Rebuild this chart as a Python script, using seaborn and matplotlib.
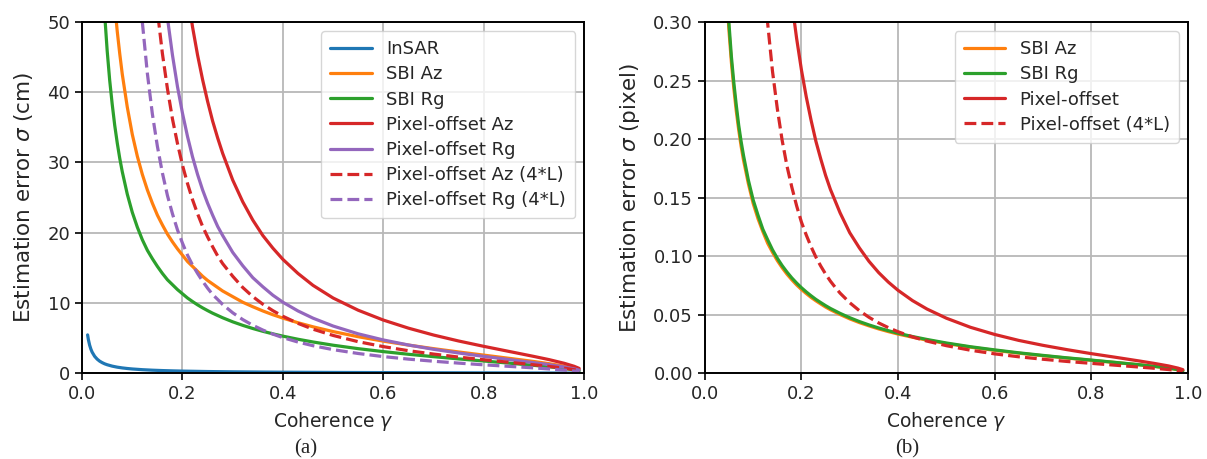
import numpy as np
import pandas as pd
import seaborn as sns
import matplotlib.pyplot as plt

# ---------------- panel (a): estimation error in cm ----------------
g_insar = [0.011, 0.0125, 0.015, 0.0175, 0.02, 0.025, 0.03, 0.035, 0.04, 0.045, 0.05, 0.06, 0.07, 0.08, 0.09, 0.10,
           0.12, 0.14, 0.16, 0.18, 0.20, 0.25, 0.30, 0.36, 0.40, 0.50, 0.60, 0.70, 0.80, 0.90, 0.96, 0.99]
v_insar = [5.45, 4.80, 4.00, 3.43, 3.00, 2.40, 2.00, 1.71, 1.50, 1.33, 1.20, 1.00, 0.855, 0.748, 0.664, 0.597,
           0.496, 0.424, 0.370, 0.328, 0.294, 0.232, 0.191, 0.156, 0.137, 0.104, 0.080, 0.061, 0.045, 0.029, 0.018, 0.0086]

# coherence samples for the SBI curves
g_sbi = [0.04, 0.045, 0.05, 0.055, 0.06, 0.065, 0.07, 0.075, 0.08,
         0.09, 0.10, 0.11, 0.12, 0.13, 0.14, 0.15, 0.16, 0.17, 0.18, 0.19, 0.20,
         0.21, 0.22, 0.23, 0.24, 0.25, 0.26,
         0.28, 0.30, 0.32, 0.34, 0.36, 0.38, 0.40,
         0.43, 0.46, 0.50, 0.55, 0.60, 0.65, 0.70, 0.75, 0.80, 0.85, 0.90, 0.93, 0.96, 0.98, 0.99]
v_sbi_az = [85.4, 75.9, 68.3, 62.1, 56.9, 52.5, 48.7, 45.5, 42.6,
            37.9, 34.0, 30.9, 28.3, 26.1, 24.2, 22.5, 21.1, 19.8, 18.7, 17.7, 16.8,
            15.9, 15.2, 14.5, 13.8, 13.2, 12.7,
            11.7, 10.9, 10.1, 9.46, 8.86, 8.32, 7.84,
            7.18, 6.60, 5.92, 5.19, 4.56, 4.00, 3.49, 3.02, 2.57, 2.12, 1.66, 1.35, 1.00, 0.69, 0.49]
v_sbi_rg = [57.5, 51.1, 45.9, 41.7, 38.3, 35.3, 32.8, 30.6, 28.7,
            25.5, 22.9, 20.8, 19.0, 17.5, 16.3, 15.2, 14.2, 13.3, 12.6, 11.9, 11.3,
            10.7, 10.2, 9.73, 9.30, 8.91, 8.54,
            7.89, 7.31, 6.81, 6.36, 5.96, 5.60, 5.27,
            4.83, 4.44, 3.98, 3.49, 3.07, 2.69, 2.35, 2.03, 1.73, 1.43, 1.11, 0.91, 0.67, 0.47, 0.33]

# coherence samples for the pixel-offset curves
g_po = [0.12, 0.13, 0.14, 0.15, 0.16, 0.17, 0.18, 0.19, 0.20,
        0.21, 0.22, 0.23, 0.24, 0.25, 0.26, 0.27, 0.28,
        0.30, 0.32, 0.34, 0.36, 0.38, 0.40,
        0.43, 0.46, 0.50, 0.55, 0.60, 0.65, 0.70, 0.75, 0.80, 0.85, 0.90, 0.93, 0.96, 0.98, 0.99]
v_po_az = [160, 137, 118, 103, 91.1, 81.0, 72.5, 65.3, 59.2,
           53.9, 49.3, 45.3, 41.8, 38.7, 35.9, 33.5, 31.3,
           27.5, 24.4, 21.8, 19.6, 17.8, 16.2,
           14.2, 12.5, 10.7, 8.96, 7.56, 6.41, 5.43, 4.58, 3.82, 3.10, 2.38, 1.93, 1.41, 0.98, 0.68]
v_po_rg = [99.9, 85.4, 73.9, 64.5, 56.9, 50.6, 45.3, 40.8, 37.0,
           33.7, 30.8, 28.3, 26.1, 24.2, 22.5, 20.9, 19.6,
           17.2, 15.3, 13.6, 12.3, 11.1, 10.1,
           8.86, 7.83, 6.71, 5.60, 4.73, 4.01, 3.40, 2.87, 2.39, 1.94, 1.49, 1.21, 0.88, 0.61, 0.43]
v_po_az4 = [79.9, 68.3, 59.1, 51.6, 45.5, 40.5, 36.2, 32.7, 29.6,
            27.0, 24.7, 22.7, 20.9, 19.4, 18.0, 16.7, 15.6,
            13.8, 12.2, 10.9, 9.82, 8.90, 8.10,
            7.09, 6.26, 5.37, 4.48, 3.78, 3.20, 2.72, 2.29, 1.91, 1.55, 1.19, 0.96, 0.71, 0.49, 0.34]
v_po_rg4 = [50.0, 42.7, 36.9, 32.3, 28.5, 25.3, 22.7, 20.4, 18.5,
            16.8, 15.4, 14.2, 13.1, 12.1, 11.2, 10.5, 9.78,
            8.60, 7.63, 6.82, 6.14, 5.56, 5.06,
            4.43, 3.91, 3.35, 2.80, 2.36, 2.00, 1.70, 1.43, 1.19, 0.97, 0.75, 0.60, 0.44, 0.31, 0.21]

# ---------------- panel (b): estimation error in pixel ----------------
v_b_sbi_az = [0.365, 0.324, 0.292, 0.265, 0.243, 0.224, 0.208, 0.194, 0.182,
              0.162, 0.145, 0.132, 0.121, 0.111, 0.1033, 0.0962, 0.0901, 0.0846, 0.0798, 0.0754, 0.0715,
              0.0680, 0.0647, 0.0618, 0.0591, 0.0565, 0.0542,
              0.0501, 0.0464, 0.0432, 0.0404, 0.0378, 0.0355, 0.0334,
              0.0307, 0.0282, 0.0253, 0.0222, 0.0195, 0.0171, 0.0149, 0.0129, 0.0110, 0.0091, 0.0071, 0.0058, 0.0043, 0.0030, 0.0021]
v_b_sbi_rg = [0.372, 0.331, 0.298, 0.270, 0.248, 0.229, 0.212, 0.198, 0.186,
              0.165, 0.148, 0.135, 0.123, 0.114, 0.1054, 0.0982, 0.0919, 0.0864, 0.0814, 0.0770, 0.0730,
              0.0694, 0.0661, 0.0630, 0.0603, 0.0577, 0.0553,
              0.0511, 0.0474, 0.0441, 0.0412, 0.0386, 0.0363, 0.0341,
              0.0313, 0.0288, 0.0258, 0.0226, 0.0199, 0.0174, 0.0152, 0.0131, 0.0112, 0.0092, 0.0072, 0.0059, 0.0044, 0.0030, 0.0021]
v_b_po = [0.700, 0.598, 0.517, 0.452, 0.398, 0.354, 0.317, 0.286, 0.259,
          0.236, 0.216, 0.198, 0.183, 0.169, 0.157, 0.147, 0.137,
          0.120, 0.107, 0.0955, 0.0859, 0.0778, 0.0708,
          0.0620, 0.0548, 0.0470, 0.0392, 0.0331, 0.0280, 0.0238, 0.0201, 0.0167, 0.0136, 0.0104, 0.0084, 0.0062, 0.0043, 0.0030]
v_b_po4 = [0.350, 0.299, 0.258, 0.226, 0.199, 0.177, 0.159, 0.143, 0.129,
           0.118, 0.108, 0.0991, 0.0915, 0.0847, 0.0786, 0.0733, 0.0684,
           0.0602, 0.0534, 0.0477, 0.0429, 0.0389, 0.0354,
           0.0310, 0.0274, 0.0235, 0.0196, 0.0165, 0.0140, 0.0119, 0.0100, 0.0084, 0.0068, 0.0052, 0.0042, 0.0031, 0.0021, 0.0015]

C_BLUE, C_ORANGE, C_GREEN, C_RED, C_PURPLE = '#1f77b4', '#ff7f0e', '#2ca02c', '#d62728', '#9467bd'

sns.set_style("ticks", {"axes.grid": True, "grid.color": "#b8b8b8", "axes.edgecolor": "black"})
plt.rcParams['font.family'] = ['DejaVu Sans']

fig = plt.figure(figsize=(12.07, 4.59), dpi=100)
ax1 = fig.add_axes([0.068, 0.187, 0.416, 0.765])
ax2 = fig.add_axes([0.584, 0.187, 0.400, 0.765])

lw = 2.3
series_a = [
    (g_insar, v_insar, C_BLUE, '-', 'InSAR'),
    (g_sbi, v_sbi_az, C_ORANGE, '-', 'SBI Az'),
    (g_sbi, v_sbi_rg, C_GREEN, '-', 'SBI Rg'),
    (g_po, v_po_az, C_RED, '-', 'Pixel-offset Az'),
    (g_po, v_po_rg, C_PURPLE, '-', 'Pixel-offset Rg'),
    (g_po, v_po_az4, C_RED, '--', 'Pixel-offset Az (4*L)'),
    (g_po, v_po_rg4, C_PURPLE, '--', 'Pixel-offset Rg (4*L)'),
]
for g, v, c, ls, lab in series_a:
    sns.lineplot(x=g, y=v, color=c, linestyle=ls, lw=lw, label=lab, ax=ax1)

series_b = [
    (g_sbi, v_b_sbi_az, C_ORANGE, '-', 'SBI Az'),
    (g_sbi, v_b_sbi_rg, C_GREEN, '-', 'SBI Rg'),
    (g_po, v_b_po, C_RED, '-', 'Pixel-offset'),
    (g_po, v_b_po4, C_RED, '--', 'Pixel-offset (4*L)'),
]
for g, v, c, ls, lab in series_b:
    sns.lineplot(x=g, y=v, color=c, linestyle=ls, lw=lw, label=lab, ax=ax2)

ax1.set_ylim(0, 50)
ax1.set_yticks(np.arange(0, 51, 10))
ax1.set_ylabel(r'Estimation error $\sigma$ (cm)', fontsize=15.5, labelpad=9)
ax2.set_ylim(0, 0.30)
yt = np.arange(0, 0.301, 0.05)
ax2.set_yticks(yt)
ax2.set_yticklabels([f'{t:.2f}' for t in yt])
ax2.set_ylabel(r'Estimation error $\sigma$ (pixel)', fontsize=15.5, labelpad=8)

xt = np.arange(0, 1.01, 0.2)
for ax in (ax1, ax2):
    ax.set_xlim(0, 1)
    ax.set_xticks(xt)
    ax.set_xticklabels([f'{t:.1f}' for t in xt])
    ax.set_xlabel(r'Coherence $\gamma$', fontsize=13.5, labelpad=5)
    ax.grid(True, color='#b8b8b8', lw=1.3)
    ax.tick_params(length=5, width=1.2, labelsize=13, color='black')
    for s in ax.spines.values():
        s.set_linewidth(1.4)
        s.set_color('black')
    ax.legend(loc='upper right', fontsize=13, handlelength=2.3, framealpha=0.8,
              borderpad=0.5, labelspacing=0.4)

fig.text(0.253, 0.012, '(a)', family='Liberation Serif', fontsize=15, ha='center')
fig.text(0.752, 0.012, '(b)', family='Liberation Serif', fontsize=15, ha='center')

plt.savefig('out.png', dpi=100)
